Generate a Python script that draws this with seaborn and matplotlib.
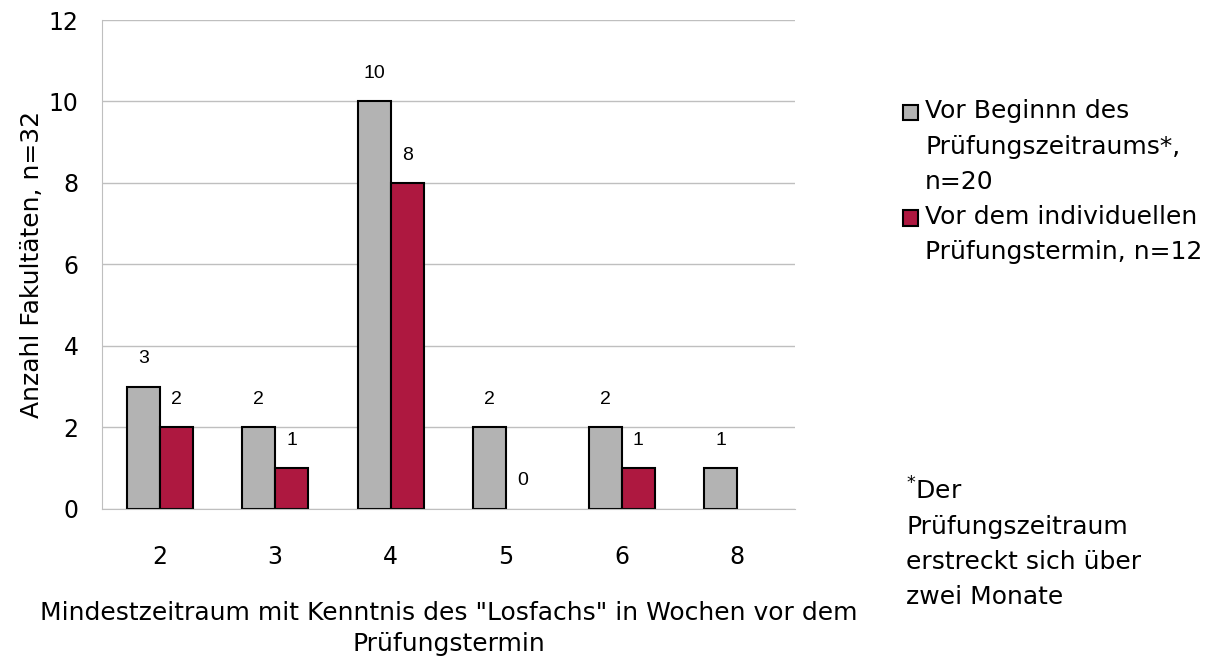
import matplotlib
matplotlib.use('Agg')
from matplotlib import pyplot as plt
import seaborn as sns
import pandas as pd
import numpy as np

# Daten
wochen = ['2', '3', '4', '5', '6', '8']
vor_beginn = [3, 2, 10, 2, 2, 1]
vor_termin = [2, 1, 8, 0, 1, np.nan]
serien = ['Vor Beginnn des\nPrüfungszeitraums*,\nn=20',
          'Vor dem individuellen\nPrüfungstermin, n=12']
farben = ['#B3B3B3', '#AE1840']

data = pd.DataFrame({
    'woche': wochen * 2,
    'anzahl': vor_beginn + vor_termin,
    'serie': [serien[0]] * len(wochen) + [serien[1]] * len(wochen),
})

sns.set_style('white', rc={'text.color': 'black', 'axes.labelcolor': 'black',
                           'xtick.color': 'black', 'ytick.color': 'black'})
plt.rcParams['font.family'] = ['DejaVu Sans']

fig = plt.figure(figsize=(12.23, 6.67), dpi=100)
ax = fig.add_axes([0.0834, 0.237, 0.5666, 0.733])

sns.barplot(x='woche', y='anzahl', hue='serie', data=data, order=wochen,
            hue_order=serien, palette=farben, width=0.57, saturation=1,
            edgecolor='black', linewidth=1.5, ax=ax, legend=True)

for cont in ax.containers:
    labels = ['' if np.isnan(v) else '%d' % v for v in cont.datavalues]
    ax.bar_label(cont, labels=labels, padding=14, fontsize=14,
                 family='Liberation Sans')
    for p in cont.patches:
        if p.get_height() == 0:
            p.set_linewidth(0)

ax.set_ylim(0, 12)
ax.set_yticks(range(0, 13, 2))
ax.grid(axis='y', color='#BFBFBF', linewidth=1)
ax.set_axisbelow(True)
for s in ['top', 'right']:
    ax.spines[s].set_visible(False)
ax.spines['left'].set_color('#BFBFBF')
ax.spines['bottom'].set_color('#BFBFBF')
ax.tick_params(axis='both', length=0, labelsize=17)
ax.tick_params(axis='x', pad=26)
ax.tick_params(axis='y', pad=17)
ax.set_xlim(-0.5, 5.5)

ax.set_ylabel('Anzahl Fakultäten, n=32', fontsize=18, labelpad=3)
ax.set_xlabel('Mindestzeitraum mit Kenntnis des "Losfachs" in Wochen vor dem\nPrüfungstermin',
              fontsize=18, labelpad=23, linespacing=1.39)

leg = ax.legend(loc='upper left', bbox_to_anchor=(0.738, 0.851),
                bbox_transform=fig.transFigure, frameon=False,
                fontsize=18, handlelength=0.6, handleheight=0.6,
                handletextpad=0.3, labelspacing=0.42, borderpad=0,
                borderaxespad=0)
zeilen_abstand = 25.2
for txt, h in zip(leg.get_texts(), leg.legend_handles):
    txt.set_linespacing(1.6)
    n = txt.get_text().count('\n')
    h.set_y(h.get_y() + n / 2 * zeilen_abstand)

fig.text(0.741, 0.285, '$^{*}$Der\nPrüfungszeitraum\nerstreckt sich über\nzwei Monate',
         fontsize=18, va='top', ha='left', linespacing=1.57)

fig.savefig('out.png', dpi=100)
